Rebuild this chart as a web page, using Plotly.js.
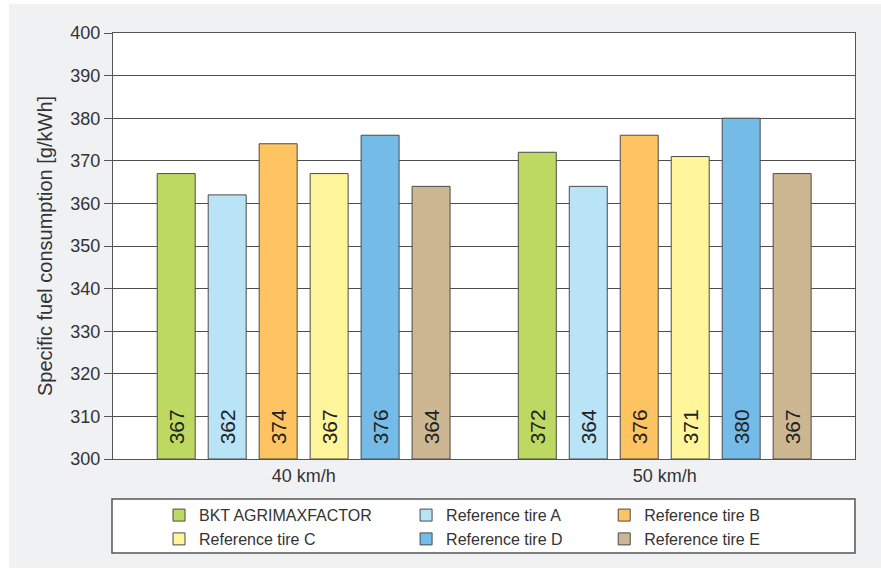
<!DOCTYPE html>
<html>
<head>
<meta charset="utf-8">
<script src="https://cdn.plot.ly/plotly-3.0.1.min.js"></script>
<style>
html,body{margin:0;padding:0;background:#ffffff;}
#bg{position:absolute;left:9px;top:4px;width:872px;height:564px;background:#f0f1f3;}
#chart{position:absolute;left:0;top:0;width:881px;height:569px;}
</style>
</head>
<body>
<div id="bg"></div>
<div id="chart"></div>
<script>
const categories = ["40 km/h", "50 km/h"];
const seriesNames = ["BKT AGRIMAXFACTOR", "Reference tire A", "Reference tire B", "Reference tire C", "Reference tire D", "Reference tire E"];
const bktAgrimaxfactor = [367, 372];
const referenceTireA = [362, 364];
const referenceTireB = [374, 376];
const referenceTireC = [367, 371];
const referenceTireD = [376, 380];
const referenceTireE = [364, 367];
const yTicks = [300, 310, 320, 330, 340, 350, 360, 370, 380, 390, 400];

const seriesValues = [bktAgrimaxfactor, referenceTireA, referenceTireB, referenceTireC, referenceTireD, referenceTireE];
const colors = ["#bed962", "#b9e4f8", "#fec462", "#fff59b", "#74bce7", "#cdb792"];
// legend column for each series (3 columns, 2 rows)
const legendIds = ["legend", "legend2", "legend3", "legend", "legend2", "legend3"];

const traces = seriesValues.map((vals, i) => ({
  type: "bar",
  name: seriesNames[i],
  legend: legendIds[i],
  x: categories,
  y: vals.map(v => v - 300),
  base: 300,
  text: vals.map(v => "\u00a0\u00a0" + v),
  textposition: "inside",
  insidetextanchor: "start",
  textangle: -90,
  textfont: {family: "Liberation Sans, Arial, sans-serif", size: 21, color: "#222222"},
  marker: {color: colors[i], line: {color: "#4a4a4a", width: 1}},
  hoverinfo: "none",
  cliponaxis: false
}));

const legendBase = {
  orientation: "v",
  xanchor: "left",
  y: -0.092,
  yanchor: "top",
  bgcolor: "rgba(0,0,0,0)",
  borderwidth: 0,
  font: {family: "Liberation Sans, Arial, sans-serif", size: 16, color: "#333333"},
  traceorder: "normal",
  itemclick: false,
  itemdoubleclick: false,
  tracegroupgap: 0
};

const layout = {
  width: 881,
  height: 569,
  margin: {l: 113, r: 26, t: 33, b: 110, autoexpand: false},
  paper_bgcolor: "rgba(0,0,0,0)",
  plot_bgcolor: "#ffffff",
  barmode: "group",
  bargap: 0.153,
  bargroupgap: 0.255,
  showlegend: true,
  font: {family: "Liberation Sans, Arial, sans-serif", color: "#333333"},
  xaxis: {
    type: "category",
    range: [-0.528, 1.527],
    showgrid: false,
    showline: true,
    linecolor: "#555555",
    linewidth: 1,
    mirror: true,
    ticks: "",
    tickfont: {size: 18, color: "#333333"},
    fixedrange: true
  },
  yaxis: {
    range: [300, 400],
    tickvals: yTicks,
    ticktext: yTicks.map(String),
    showgrid: true,
    gridcolor: "#4d4d4d",
    gridwidth: 1,
    showline: true,
    linecolor: "#555555",
    linewidth: 1,
    mirror: true,
    ticks: "outside",
    ticklen: 8,
    tickcolor: "#555555",
    tickfont: {size: 18, color: "#333333"},
    zeroline: false,
    title: {text: "Specific fuel consumption [g/kWh]", font: {size: 20, color: "#333333"}, standoff: 12},
    fixedrange: true
  },
  legend: Object.assign({}, legendBase, {x: 0.062}),
  legend2: Object.assign({}, legendBase, {x: 0.395}),
  legend3: Object.assign({}, legendBase, {x: 0.662}),
  shapes: [{
    type: "rect",
    xref: "paper",
    yref: "paper",
    x0: (112 - 113) / 742,
    x1: (855 - 113) / 742,
    y0: (459 - 553) / 426,
    y1: (459 - 499) / 426,
    line: {color: "#555555", width: 1.5},
    fillcolor: "#ffffff",
    layer: "below"
  }]
};

Plotly.newPlot("chart", traces, layout, {displayModeBar: false, staticPlot: true});
</script>
</body>
</html>
